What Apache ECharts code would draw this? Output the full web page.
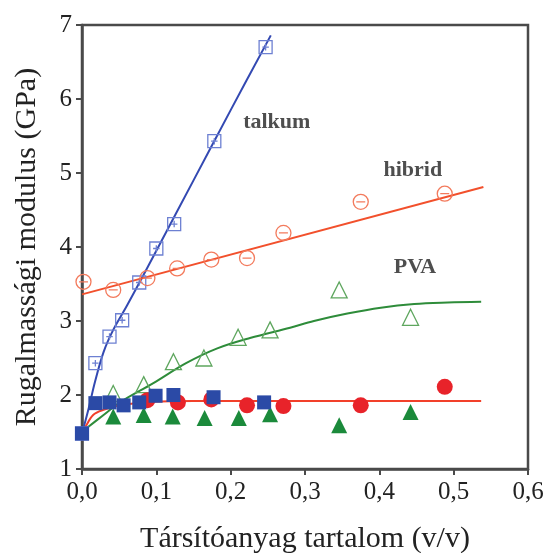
<!DOCTYPE html>
<html><head><meta charset="utf-8">
<script src="https://cdn.jsdelivr.net/npm/echarts@6/dist/echarts.min.js"></script>
<style>html,body{margin:0;padding:0;background:#fff}#c{width:547px;height:553px}</style>
</head><body><div id="c"></div>
<script>
// ---- data ----
const xTicks = [0, 0.1, 0.2, 0.3, 0.4, 0.5, 0.6];
const yTicks = [1, 2, 3, 4, 5, 6, 7];
const xTitle = 'Társítóanyag tartalom (v/v)';
const yTitle = 'Rugalmassági modulus (GPa)';

const talkumPts = [[0,1.48],[0.018,2.43],[0.037,2.79],[0.054,3.01],[0.077,3.52],[0.1,3.98],[0.124,4.31],[0.178,5.43],[0.247,6.70]];
const hibridPts = [[0.002,3.53],[0.042,3.42],[0.088,3.58],[0.128,3.71],[0.174,3.83],[0.222,3.85],[0.271,4.19],[0.375,4.61],[0.488,4.72]];
const pvaPts = [[0.042,2.02],[0.083,2.14],[0.123,2.45],[0.164,2.50],[0.21,2.78],[0.253,2.88],[0.346,3.42],[0.442,3.05]];
const filledSquares = [[0,1.48],[0.018,1.89],[0.037,1.90],[0.056,1.86],[0.077,1.90],[0.099,1.99],[0.123,2.00],[0.177,1.97],[0.245,1.90]];
const filledCircles = [[0.088,1.93],[0.129,1.90],[0.174,1.94],[0.222,1.86],[0.271,1.85],[0.375,1.86],[0.488,2.11]];
const filledTriangles = [[0.042,1.71],[0.083,1.73],[0.122,1.71],[0.165,1.69],[0.211,1.69],[0.253,1.74],[0.346,1.59],[0.442,1.77]];

const talkumFit = [[0,1.48],[0.0085,1.80],[0.0175,2.18],[0.029,2.58],[0.042,2.88],[0.06,3.2],[0.08,3.57],[0.1,3.95],[0.15,4.9],[0.2,5.85],[0.254,6.86]];
const hibridFit = [[0,3.36],[0.54,4.81]];
const pvaFit = [[0,1.5],[0.006,1.55],[0.029,1.73],[0.051,1.9],[0.096,2.16],[0.14,2.43],[0.182,2.63],[0.226,2.77],[0.28,2.91],[0.312,3.0],[0.357,3.1],[0.402,3.18],[0.447,3.23],[0.492,3.25],[0.537,3.26]];
const filledFit = [[0,1.5],[0.004,1.56],[0.015,1.73],[0.029,1.8],[0.051,1.86],[0.096,1.91],[0.15,1.92],[0.537,1.92]];

const seriesLabels = [['talkum',0.262,5.68],['hibrid',0.445,5.04],['PVA',0.448,3.72]];

// ---- chart ----
const FONT = '"Liberation Serif","DejaVu Serif",serif';
const AX = '#4a4a4a';
const sqCross = 'path://M0,0H10V10H0Z M5,2.5V7.5 M2.5,5H7.5';
const circLine = 'path://M10,5A5,5,0,1,1,0,5A5,5,0,1,1,10,5Z M2,5H8';

const chart = echarts.init(document.getElementById('c'), null, {renderer:'canvas'});
function fitLine(data, color){
  return {type:'line', data, smooth:0.35, showSymbol:false, symbol:'none', silent:true,
    lineStyle:{color, width:2}, z:2};
}
function scatter(data, symbol, size, fill, border){
  return {type:'scatter', data, symbol, symbolSize:size, z:3,
    itemStyle:{color:fill, borderColor:border, borderWidth: fill==='rgba(0,0,0,0)'?1.3:0, opacity:1}};
}
chart.setOption({
  animation:false,
  backgroundColor:'#fff',
  grid:{left:82, right:19, top:25, bottom:84, containLabel:false, outerBoundsMode:'none',
    show:true, borderColor:AX, borderWidth:2.5, backgroundColor:'transparent'},
  xAxis:{type:'value', min:xTicks[0], max:xTicks[xTicks.length-1], interval:0.1,
    name:xTitle, nameLocation:'middle', nameGap:55,
    nameTextStyle:{fontFamily:FONT, fontSize:30, color:'#222'},
    axisLine:{show:true, onZero:false, lineStyle:{color:AX, width:2.5}},
    axisTick:{show:true, inside:false, length:6, lineStyle:{color:AX, width:2}},
    axisLabel:{fontFamily:FONT, fontSize:25, color:'#222', margin:11,
      formatter:v=>v.toFixed(1).replace('.',',')},
    splitLine:{show:false}},
  yAxis:{type:'value', min:yTicks[0], max:yTicks[yTicks.length-1], interval:1,
    name:yTitle, nameLocation:'middle', nameGap:40,
    nameTextStyle:{fontFamily:FONT, fontSize:30, color:'#222'},
    axisLine:{show:true, onZero:false, lineStyle:{color:AX, width:2.5}},
    axisTick:{show:true, inside:false, length:6, lineStyle:{color:AX, width:2}},
    axisLabel:{fontFamily:FONT, fontSize:25, color:'#222', margin:10},
    splitLine:{show:false}},
  series:[
    fitLine(talkumFit,'#3349b2'),
    fitLine(hibridFit,'#f2502c'),
    fitLine(pvaFit,'#2e8c3a'),
    fitLine(filledFit,'#f2402a'),
    scatter(talkumPts, sqCross, 13, 'rgba(0,0,0,0)', '#6d80d2'),
    scatter(hibridPts, circLine, 15, 'rgba(0,0,0,0)', '#f37a5c'),
    scatter(pvaPts, 'triangle', 16, 'rgba(0,0,0,0)', '#5ea65e'),
    scatter(filledTriangles, 'triangle', 16, '#1b8a3b', '#1b8a3b'),
    scatter(filledCircles, 'circle', 16, '#e8232a', '#e8232a'),
    scatter(filledSquares, 'rect', 14, '#2b4aa6', '#2b4aa6'),
    {type:'scatter', data: seriesLabels.map(l=>({value:[l[1],l[2]], name:l[0]})), symbol:'circle', symbolSize:1,
      itemStyle:{color:'rgba(0,0,0,0)'}, z:4, silent:true,
      label:{show:true, position:'inside', formatter:p=>p.name, fontFamily:FONT, fontSize:22, fontWeight:'bold', color:'#222'}}
  ]
});
</script></body></html>
